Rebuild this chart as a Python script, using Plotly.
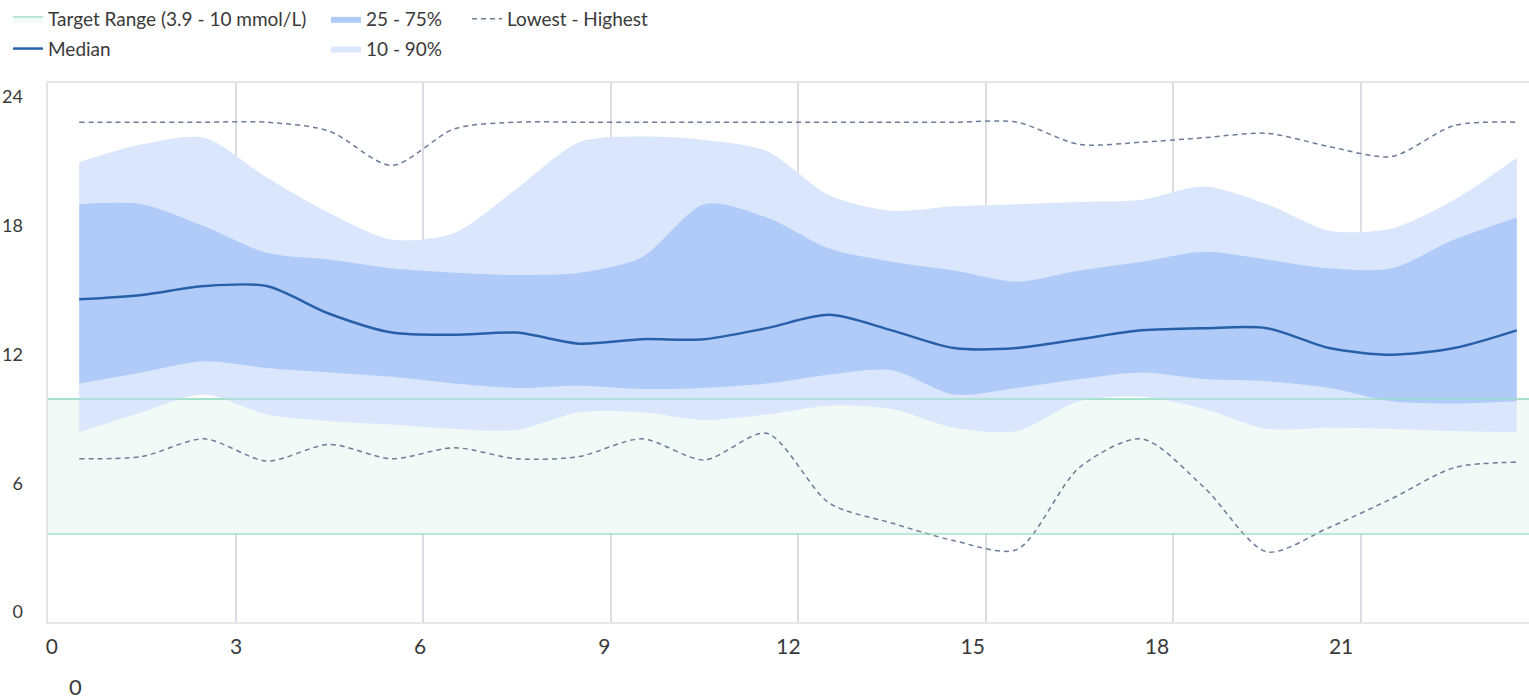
import plotly.graph_objects as go

# Hour-of-day sample points (bin centres)
hours = [0.5 + i for i in range(24)]

# Glucose profile percentiles (mmol/L)
median = [14.5, 14.7, 15.1, 15.1, 13.85, 13.0, 12.9, 13.0, 12.5, 12.7, 12.7, 13.2,
          13.8, 13.1, 12.3, 12.3, 12.7, 13.1, 13.2, 13.2, 12.3, 12.0, 12.3, 13.1]
p25 = [10.7, 11.2, 11.7, 11.4, 11.2, 11.0, 10.7, 10.5, 10.6, 10.45, 10.5, 10.7,
       11.1, 11.3, 10.2, 10.5, 10.9, 11.2, 10.9, 10.8, 10.5, 9.9, 9.8, 9.9]
p75 = [18.8, 18.8, 17.8, 16.6, 16.3, 15.9, 15.7, 15.6, 15.7, 16.4, 18.8, 18.2,
       16.8, 16.2, 15.8, 15.3, 15.8, 16.2, 16.65, 16.3, 15.9, 15.9, 17.2, 18.2]
p10 = [8.5, 9.4, 10.2, 9.3, 9.0, 8.85, 8.65, 8.6, 9.4, 9.4, 9.05, 9.3,
       9.7, 9.55, 8.7, 8.55, 9.9, 10.1, 9.55, 8.65, 8.7, 8.65, 8.55, 8.5]
p90 = [20.7, 21.5, 21.8, 20.0, 18.4, 17.2, 17.5, 19.5, 21.6, 21.85, 21.7, 21.2,
       19.2, 18.5, 18.7, 18.8, 18.9, 19.0, 19.6, 18.8, 17.6, 17.7, 19.0, 20.9]
lowest = [7.3, 7.4, 8.2, 7.2, 7.95, 7.3, 7.8, 7.3, 7.4, 8.2, 7.25, 8.45,
          5.3, 4.4, 3.6, 3.2, 6.9, 8.2, 6.0, 3.1, 4.2, 5.5, 6.9, 7.15]
highest = [22.5, 22.5, 22.5, 22.5, 22.1, 20.55, 22.2, 22.5, 22.5, 22.5, 22.5, 22.5,
           22.5, 22.5, 22.5, 22.5, 21.5, 21.6, 21.8, 22.0, 21.4, 20.95, 22.35, 22.5]

# Target range bounds
target_low = 3.9
target_high = 10
day_span = [0, 24]

# Axis ticks
x_ticks = [0, 3, 6, 9, 12, 15, 18, 21]
y_ticks = [0, 6, 12, 18, 24]

FONT = "Lato, 'Open Sans', sans-serif"
TEXT = "#3a3a3a"
GREEN = "#a6e2cd"
BAND_OUTER = "#dae6fc"
BAND_INNER = "#b1cbf8"
MEDIAN_BLUE = "#2760a8"
DASH_GREY = "#6c7d98"
SMOOTH = 0.8

fig = go.Figure()

# Target range band
fig.add_trace(go.Scatter(x=day_span, y=[target_low, target_low], mode="lines",
                         line=dict(width=0), showlegend=False, hoverinfo="skip",
                         legendgroup="target"))
fig.add_trace(go.Scatter(x=day_span, y=[target_high, target_high], mode="lines",
                         line=dict(color=GREEN, width=1.5), fill="tonexty",
                         fillcolor="#f2faf7", name="Target Range (3.9 - 10 mmol/L)",
                         legend="legend", legendgroup="target", legendrank=1))

# 10 - 90 % band
fig.add_trace(go.Scatter(x=hours, y=p10, mode="lines",
                         line=dict(width=0, shape="spline", smoothing=SMOOTH),
                         showlegend=False, legendgroup="p10", hoverinfo="skip"))
fig.add_trace(go.Scatter(x=hours, y=p90, mode="lines",
                         line=dict(width=0, shape="spline", smoothing=SMOOTH),
                         fill="tonexty", fillcolor=BAND_OUTER, name="10 - 90%",
                         legend="legend2", legendgroup="p10", legendrank=2))

# 25 - 75 % band
fig.add_trace(go.Scatter(x=hours, y=p25, mode="lines",
                         line=dict(width=0, shape="spline", smoothing=SMOOTH),
                         showlegend=False, legendgroup="p25", hoverinfo="skip"))
fig.add_trace(go.Scatter(x=hours, y=p75, mode="lines",
                         line=dict(width=0, shape="spline", smoothing=SMOOTH),
                         fill="tonexty", fillcolor=BAND_INNER, name="25 - 75%",
                         legend="legend2", legendgroup="p25", legendrank=1))

# Median
fig.add_trace(go.Scatter(x=hours, y=median, mode="lines", name="Median",
                         line=dict(color=MEDIAN_BLUE, width=2.5, shape="spline",
                                   smoothing=SMOOTH),
                         legend="legend", legendgroup="median", legendrank=2))

# Lowest / highest envelopes
for values, show in ((lowest, True), (highest, False)):
    fig.add_trace(go.Scatter(x=hours, y=values, mode="lines", name="Lowest - Highest",
                             line=dict(color=DASH_GREY, width=1.5, dash="5px,4px",
                                       shape="spline", smoothing=SMOOTH),
                             legend="legend3", legendgroup="range", showlegend=show))

# Carrier for the labelled overlay axes
fig.add_trace(go.Scatter(x=[], y=[], xaxis="x2", yaxis="y2", showlegend=False,
                         hoverinfo="skip"))

# Target range boundaries drawn over the bands
for level in (target_low, target_high):
    fig.add_shape(type="line", xref="x", yref="y", x0=day_span[0], x1=day_span[1],
                  y0=level, y1=level, layer="above",
                  line=dict(color="rgba(150,220,196,0.85)", width=1.5))

legend_common = dict(
    orientation="v", xref="container", yref="container", xanchor="left",
    yanchor="top", font=dict(family=FONT, size=19, color=TEXT),
    bgcolor="rgba(0,0,0,0)", traceorder="grouped", tracegroupgap=2,
    itemwidth=30,
)

fig.update_layout(
    width=1529, height=699,
    margin=dict(l=48, r=0, t=83, b=77, autoexpand=False),
    paper_bgcolor="white", plot_bgcolor="white",
    font=dict(family=FONT, color=TEXT),
    legend=dict(x=8 / 1529, y=1.0, **legend_common),
    legend2=dict(x=326 / 1529, y=1.0, **legend_common),
    legend3=dict(x=467 / 1529, y=1.0, **legend_common),
    xaxis=dict(range=[0, 23.696], tickvals=x_ticks, showticklabels=False,
               showgrid=True, gridcolor="#dcdde2", gridwidth=1.5, zeroline=False,
               showline=True, linecolor="#e6e6e8", linewidth=1.5, mirror=True, ticks=""),
    yaxis=dict(range=[-0.07, 24.27], showticklabels=False, showgrid=False,
               zeroline=False, showline=True, linecolor="#e6e6e8", linewidth=1.5,
               mirror=False, ticks=""),
    xaxis2=dict(overlaying="x", anchor="y2", side="bottom", range=[-0.062, 24.06],
                tickvals=x_ticks, ticktext=[str(t) for t in x_ticks],
                showgrid=False, zeroline=False, showline=False, ticks="",
                tickfont=dict(family=FONT, size=21, color=TEXT),
                ticklabelstandoff=10),
    yaxis2=dict(overlaying="y", anchor="x2", side="left", range=[-0.466, 24.65],
                tickvals=y_ticks, ticktext=[str(t) for t in y_ticks],
                showgrid=False, zeroline=False, showline=False, ticks="",
                tickfont=dict(family=FONT, size=18, color=TEXT),
                ticklabelstandoff=24),
    showlegend=True,
    hovermode=False,
)

fig.add_annotation(text="0", xref="paper", yref="paper", x=27.5 / 1481, y=-64 / 539,
                   showarrow=False, font=dict(family=FONT, size=22, color=TEXT),
                   xanchor="center", yanchor="middle")

fig.write_html("out.html")
